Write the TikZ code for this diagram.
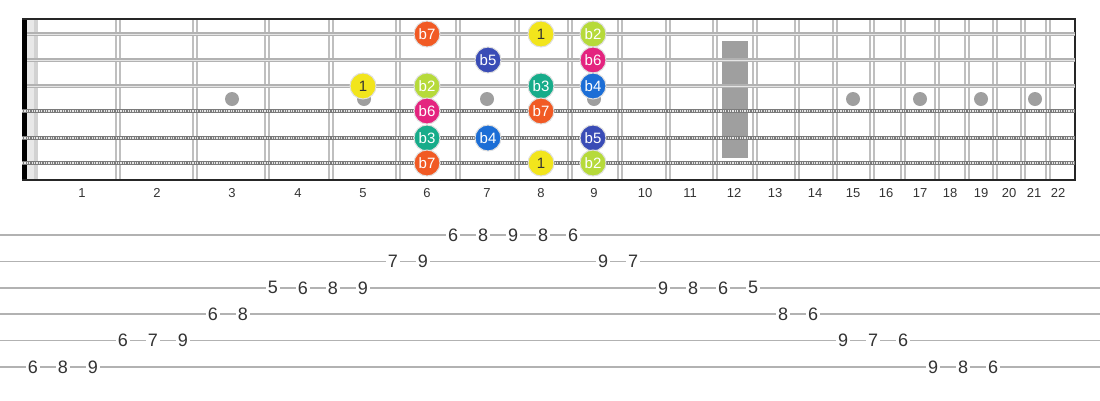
\documentclass[tikz,border=0pt]{standalone}
\usepackage{fontspec}
\setmainfont{Liberation Sans}
\usetikzlibrary{positioning}

\definecolor{rootc}{HTML}{F2E51C}
\definecolor{ftwoc}{HTML}{B6DA3A}
\definecolor{fthreec}{HTML}{17AC8A}
\definecolor{ffourc}{HTML}{1C6ED6}
\definecolor{ffivec}{HTML}{3A4CB6}
\definecolor{fsixc}{HTML}{E4247F}
\definecolor{fsevenc}{HTML}{F15A24}
\definecolor{woundc}{HTML}{7A7A7A}

\tikzset{
  note/.style={circle,minimum size=26pt,inner sep=0pt,draw=white!75!gray,line width=1pt,
    text=white,font=\fontsize{15}{15}\selectfont},
  rootnote/.style={note,fill=rootc,text=black!80},
  fretnum/.style={font=\fontsize{13}{13}\selectfont,text=black!80,inner sep=0pt},
  tabnum/.style={font=\fontsize{18}{18}\selectfont,text=black!80,fill=white,inner sep=2pt},
  inlay/.style={fill=gray!75}
}

\begin{document}
\begin{tikzpicture}[x=1pt,y=-1pt]
 \useasboundingbox (0,0) rectangle (1100,400);
 % inlays
 \foreach \x in {232,364,487,594,853,920,981,1035}
   \fill[inlay] (\x,99) circle (7);
 \fill[inlay] (722,41) rectangle (748,158);
 % frets
 \foreach \x in {118,195,267,331,398,458,517,570,620,668,715,755,797,835,872,903,937,967,995,1023,1048}{
   \draw[gray!50,line width=1.4pt] (\x-2,20) -- (\x-2,180);
   \draw[gray!50,line width=1.4pt] (\x+2,20) -- (\x+2,180);
 }
 % nut and border
 \fill[gray!18] (27,20) rectangle (38,180);
 \fill[gray!35] (34,20) rectangle (38,180);
 \fill[black] (22,18) rectangle (27,181);
 \draw[black!85,line width=2pt] (22,19) -- (1076,19);
 \draw[black!85,line width=2pt] (22,180) -- (1076,180);
 \draw[black!85,line width=2pt] (1075,19) -- (1075,180);
 % plain strings
 \foreach \y in {34,60,86}{
   \draw[gray!60,line width=3.2pt] (27,\y) -- (1075,\y);
   \draw[gray!20,line width=0.9pt] (27,\y) -- (1075,\y);
 }
 % wound strings
 \foreach \y in {111,138,163}{
   \draw[woundc,line width=4.5pt] (22,\y) -- (1075,\y);
   \draw[white!80!gray,line width=2.4pt,dash pattern=on 1.2pt off 1.2pt] (22,\y) -- (1075,\y);
 }
 % fret numbers
 \foreach \x [count=\n] in {82,157,232,298,363,427,487,541,594,645,690,734,775,815,853,886,920,950,981,1009,1034,1058}
   \node[fretnum] (fn\n) at (\x,193) {\n};
 % notes
 \node[note,fill=fsevenc] (s1f6) at (427,34) {b7};
 \node[rootnote] (s1f8) at (541,34) {1};
 \node[note,fill=ftwoc] (s1f9) at (593,34) {b2};
 \node[note,fill=ffivec] (s2f7) at (488,60) {b5};
 \node[note,fill=fsixc] (s2f9) at (593,60) {b6};
 \node[rootnote] (s3f5) at (363,86) {1};
 \node[note,fill=ftwoc] (s3f6) at (427,86) {b2};
 \node[note,fill=fthreec] (s3f8) at (541,86) {b3};
 \node[note,fill=ffourc] (s3f9) at (593,86) {b4};
 \node[note,fill=fsixc] (s4f6) at (427,111) {b6};
 \node[note,fill=fsevenc] (s4f8) at (541,111) {b7};
 \node[note,fill=fthreec] (s5f6) at (427,138) {b3};
 \node[note,fill=ffourc] (s5f7) at (488,138) {b4};
 \node[note,fill=ffivec] (s5f9) at (593,138) {b5};
 \node[note,fill=fsevenc] (s6f6) at (427,163) {b7};
 \node[rootnote] (s6f8) at (541,163) {1};
 \node[note,fill=ftwoc] (s6f9) at (593,163) {b2};
 % tab
 \foreach \s in {1,...,6}
   \draw[gray!60,line width=1.6pt] (0,{235+26.4*(\s-1)}) -- (1100,{235+26.4*(\s-1)});
 \foreach \v/\s [count=\k from 0] in {6/6,8/6,9/6,6/5,7/5,9/5,6/4,8/4,5/3,6/3,8/3,9/3,7/2,9/2,6/1,8/1,9/1,8/1,6/1,9/2,7/2,9/3,8/3,6/3,5/3,8/4,6/4,9/5,7/5,6/5,9/6,8/6,6/6}
   \node[tabnum] (t\k) at ({33+30*\k},{235+26.4*(\s-1)}) {\v};
\end{tikzpicture}
\end{document}
